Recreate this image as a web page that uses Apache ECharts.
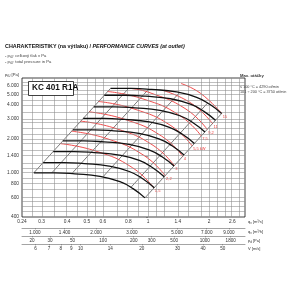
<!DOCTYPE html>
<html>
<head>
<meta charset="utf-8">
<script src="https://cdn.jsdelivr.net/npm/echarts@6/dist/echarts.min.js"></script>
<style>
html, body { margin: 0; padding: 0; background: #fff; }
#main { width: 300px; height: 300px; }
</style>
</head>
<body>
<div id="main"></div>
<script>
// osa q_v [m3/s]
var xTicks = [0.24, 0.3, 0.4, 0.5, 0.6, 0.8, 1, 1.4, 2, 2.6];
var xTickText = ['0.24', '0.3', '0.4', '0.5', '0.6', '0.8', '1', '1.4', '2', '2.6'];
var yTicks = [400, 600, 800, 1000, 1400, 2000, 3000, 4000, 5000, 6000];
var yTickText = ['400', '600', '800', '1.000', '1.400', '2.000', '3.000', '4.000', '5.000', '6.000'];
var qhTicks = [1000, 1400, 2000, 3000, 5000, 7000, 9000];
var qhTickText = ['1.000', '1.400', '2.000', '3.000', '5.000', '7.000', '9.000'];
var pdTicks = [20, 30, 50, 100, 200, 300, 500, 1000, 1800];
var vTicks = [6, 7, 8, 9, 10, 14, 20, 30, 40, 50];

// mrizka
var xGrid = [0.24, 0.27, 0.3, 0.35, 0.4, 0.45, 0.5, 0.55, 0.6, 0.7, 0.8, 0.9, 1, 1.1, 1.2, 1.4, 1.6, 1.8, 2, 2.2, 2.4, 2.6, 2.8, 3];
var yGrid = [400, 450, 500, 550, 600, 700, 800, 900, 1000, 1100, 1200, 1400, 1600, 1800, 2000, 2200, 2500, 2800, 3000, 3500, 4000, 4500, 5000, 5500, 6000, 6500, 7000];

// charakteristiky pro otacky [q m3/s, p Pa]
var rpmNames = ['1800\nRPM', '2000', '2240', '2500', '2800', '3150', '3550', '4000', '4290'];
var rpm1800 = [[0.2745, 994], [0.348, 994], [0.437, 974], [0.58, 925], [0.728, 827], [0.844, 717], [0.966, 593]];
var rpm2000 = [[0.305, 1227], [0.387, 1227], [0.486, 1202], [0.644, 1142], [0.809, 1021], [0.938, 885], [1.073, 732]];
var rpm2240 = [[0.342, 1539], [0.433, 1539], [0.544, 1508], [0.722, 1432], [0.906, 1281], [1.05, 1110], [1.202, 918]];
var rpm2500 = [[0.381, 1917], [0.483, 1917], [0.607, 1879], [0.806, 1784], [1.011, 1595], [1.172, 1383], [1.342, 1144]];
var rpm2800 = [[0.427, 2405], [0.541, 2405], [0.68, 2357], [0.902, 2238], [1.132, 2001], [1.313, 1735], [1.503, 1435]];
var rpm3150 = [[0.48, 3044], [0.609, 3044], [0.765, 2983], [1.015, 2833], [1.274, 2533], [1.477, 2196], [1.691, 1816]];
var rpm3550 = [[0.541, 3866], [0.686, 3866], [0.862, 3788], [1.144, 3598], [1.436, 3217], [1.665, 2789], [1.905, 2307]];
var rpm4000 = [[0.61, 4909], [0.773, 4909], [0.971, 4810], [1.289, 4568], [1.618, 4084], [1.876, 3541], [2.147, 2928]];
var rpm4290 = [[0.654, 5646], [0.829, 5646], [1.041, 5533], [1.382, 5254], [1.735, 4698], [2.012, 4073], [2.302, 3368]];
var rpmCurves = [rpm1800, rpm2000, rpm2240, rpm2500, rpm2800, rpm3150, rpm3550, rpm4000, rpm4290];

// prikon [kW]
var kwNames = ['1,5', '2,2', '3', '4', '5,5 kW', '7,5', '9,2', '11', '15'];
var kw15a = [[0.3706, 1812], [0.5524, 1556], [0.8403, 1102], [1.0685, 726]];
var kw22 = [[0.4211, 2339], [0.6276, 2009], [0.9547, 1422], [1.214, 937]];
var kw3 = [[0.467, 2877], [0.6961, 2471], [1.0589, 1750], [1.3465, 1152]];
var kw4 = [[0.5139, 3484], [0.766, 2992], [1.1652, 2119], [1.4817, 1395]];
var kw55 = [[0.5718, 4314], [0.8523, 3705], [1.2965, 2623], [1.6487, 1727]];
var kw75 = [[0.6338, 5300], [0.9447, 4551], [1.4371, 3223], [1.8274, 2122]];
var kw92 = [[0.82, 5646], [1.0107, 5209], [1.5375, 3689], [1.9551, 2429]];
var kw11 = [[1.18, 5430], [1.6325, 4158], [2.0758, 2738]];
var kw15 = [[1.454, 6252], [1.8105, 5115], [2.3023, 3368]];
var kwCurves = [kw15a, kw22, kw3, kw4, kw55, kw75, kw92, kw11, kw15];

// soustavy (primky p ~ q^2)
var dgNames = ['', '1', '2', '3', '4', ''];
var dgLines = [
    [[0.2745, 994], [0.654, 5646]],
    [[0.3366, 994], [0.802, 5646]],
    [[0.4222, 978], [1.006, 5556]],
    [[0.6004, 915], [1.431, 5198]],
    [[0.8245, 737], [1.965, 4187]],
    [[0.966, 593], [2.302, 3368]]
];

// vystupni prurez [m2] a hustota pro dynamicky tlak
var outletArea = 0.0466;
var rho = 1.2;

var lg = Math.log10;
var font = 'Liberation Sans';

function toLog(pt) {
    return [lg(pt[0]), lg(pt[1])];
}
function pick(values, texts) {
    return function (v) {
        for (var i = 0; i < values.length; i++) {
            if (Math.abs(values[i] - v) < 1e-6) return texts[i];
        }
        return '';
    };
}

var xMin = lg(0.24), xMax = lg(3.0);
var qhPos = qhTicks.map(function (v) { return lg(v / 3600); });
var vPos = vTicks.map(function (v) { return lg(v * outletArea); });
var pdPos = pdTicks.map(function (v) { return lg(Math.sqrt(2 * v / rho) * outletArea); });

function subAxis(offset, pos, texts, showLine) {
    return {
        type: 'value', position: 'bottom', offset: offset, min: xMin, max: xMax,
        axisLine: { show: showLine, onZero: false, lineStyle: { color: '#666', width: 0.6 } },
        axisTick: { show: true, customValues: pos, length: 1.5, lineStyle: { color: '#666', width: 0.5 } },
        axisLabel: { customValues: pos, formatter: pick(pos, texts), fontSize: 4.6, color: '#333', margin: 2, fontFamily: font },
        splitLine: { show: false }
    };
}

var chart = echarts.init(document.getElementById('main'));
var series = [];

series.push({
    type: 'line', data: [], silent: true, z: 1,
    markLine: {
        silent: true, symbol: 'none', animation: false,
        label: { show: false },
        lineStyle: { color: '#8a8a8a', width: 0.55, type: 'solid' },
        data: xGrid.map(function (v) { return { xAxis: lg(v) }; })
            .concat(yGrid.map(function (v) { return { yAxis: lg(v) }; }))
    }
});

dgLines.forEach(function (line, i) {
    series.push({
        type: 'line', symbol: 'none', silent: true, z: 3,
        lineStyle: { color: '#222', width: 0.6 },
        data: line.map(function (pt, j) {
            var item = { value: toLog(pt) };
            if (j === 1 && dgNames[i]) {
                item.label = { show: true, formatter: dgNames[i], position: 'top', distance: 1, fontSize: 4, color: '#222', fontFamily: font };
            }
            return item;
        })
    });
});

kwCurves.forEach(function (curve, i) {
    series.push({
        type: 'line', symbol: 'none', smooth: true, silent: true, z: 4,
        lineStyle: { color: '#ee3b3b', width: 0.9 },
        endLabel: { show: true, formatter: kwNames[i], fontSize: 4, color: '#ee3b3b', distance: 1, offset: [0, 3], fontFamily: font },
        data: curve.map(toLog)
    });
});

rpmCurves.forEach(function (curve, i) {
    series.push({
        type: 'line', symbol: 'none', smooth: true, silent: true, z: 5,
        lineStyle: { color: '#111', width: 1.3 },
        data: curve.map(function (pt, j) {
            var item = { value: toLog(pt) };
            if (j === 0) {
                item.label = { show: true, formatter: rpmNames[i], position: 'left', distance: 2, fontSize: 3.6, lineHeight: 4, color: '#222', fontFamily: font };
            }
            return item;
        })
    });
});

var subStyle = { fontSize: 3, fill: '#333', fontFamily: font, padding: [2, 0, 0, 0] };

chart.setOption({
    animation: false,
    grid: { left: 22, right: 55, top: 78, bottom: 83, show: true, borderColor: '#111', borderWidth: 0.8, containLabel: false },
    xAxis: [
        {
            type: 'value', min: xMin, max: xMax,
            axisLine: { show: false },
            axisTick: { show: false },
            axisLabel: {
                customValues: xTicks.map(lg), formatter: pick(xTicks.map(lg), xTickText),
                fontSize: 4.8, color: '#333', margin: 2, fontFamily: font
            },
            splitLine: { show: false }
        },
        subAxis(11, qhPos, qhTickText, true),
        subAxis(19, pdPos, pdTicks.map(String), true),
        subAxis(27, vPos, vTicks.map(String), true)
    ],
    yAxis: {
        type: 'value', min: lg(400), max: lg(7000),
        axisLine: { show: false },
        axisTick: { show: true, customValues: yTicks.map(lg), length: 2, lineStyle: { color: '#444', width: 0.5 } },
        axisLabel: {
            customValues: yTicks.map(lg), formatter: pick(yTicks.map(lg), yTickText),
            fontSize: 4.8, color: '#333', margin: 3, fontFamily: font
        },
        splitLine: { show: false }
    },
    graphic: [
        {
            type: 'text', left: 5, top: 44,
            style: {
                text: '{b|CHARAKTERISTIKY (na výtlaku) / }{i|PERFORMANCE CURVES (at outlet)}',
                rich: {
                    b: { fontSize: 5.4, fontWeight: 'bold', fontFamily: font, fill: '#111' },
                    i: { fontSize: 5.4, fontWeight: 'bold', fontStyle: 'italic', fontFamily: font, fill: '#111' }
                }
            }
        },
        {
            type: 'text', left: 5, top: 53,
            style: {
                text: '- p{s|tU}: celkový tlak v Pa\n- p{s|tU}: total pressure in Pa',
                fontSize: 4.2, lineHeight: 6, fill: '#444', fontFamily: font,
                rich: { s: { fontSize: 3, fill: '#444', fontFamily: font, padding: [3, 0, 0, 0] } }
            }
        },
        {
            type: 'text', left: 5, top: 73,
            style: { text: 'p{s|tU} [Pa]', fontSize: 4.2, fill: '#333', fontFamily: font, rich: { s: subStyle } }
        },
        {
            type: 'rect', shape: { x: 28.5, y: 81.5, width: 45, height: 14 },
            style: { fill: '#fff', stroke: '#111', lineWidth: 0.8 }, z: 50
        },
        {
            type: 'text', left: 32, top: 84, z: 51,
            style: { text: 'KC 401 R1A', fontSize: 8.2, fontWeight: 'bold', fill: '#111', fontFamily: font }
        },
        {
            type: 'text', left: 240, top: 74,
            style: { text: 'Max. otáčky', fontSize: 4.2, fontWeight: 'bold', fill: '#333', fontFamily: font }
        },
        {
            type: 'text', left: 240, top: 84,
            style: { text: '≤ 100 °C = 4290 ot/min\n101 ÷ 200 °C = 3750 ot/min', fontSize: 3.8, lineHeight: 5, fill: '#444', fontFamily: font }
        },
        { type: 'text', left: 248, top: 220, style: { text: 'q{s|v} [m³/s]', fontSize: 4, fill: '#333', fontFamily: font, rich: { s: subStyle } } },
        { type: 'text', left: 248, top: 230, style: { text: 'q{s|v} [m³/h]', fontSize: 4, fill: '#333', fontFamily: font, rich: { s: subStyle } } },
        { type: 'text', left: 248, top: 239, style: { text: 'p{s|d} [Pa]', fontSize: 4, fill: '#333', fontFamily: font, rich: { s: subStyle } } },
        { type: 'text', left: 248, top: 247, style: { text: 'V [m/s]', fontSize: 4, fill: '#333', fontFamily: font } }
    ],
    series: series
});
</script>
</body>
</html>
